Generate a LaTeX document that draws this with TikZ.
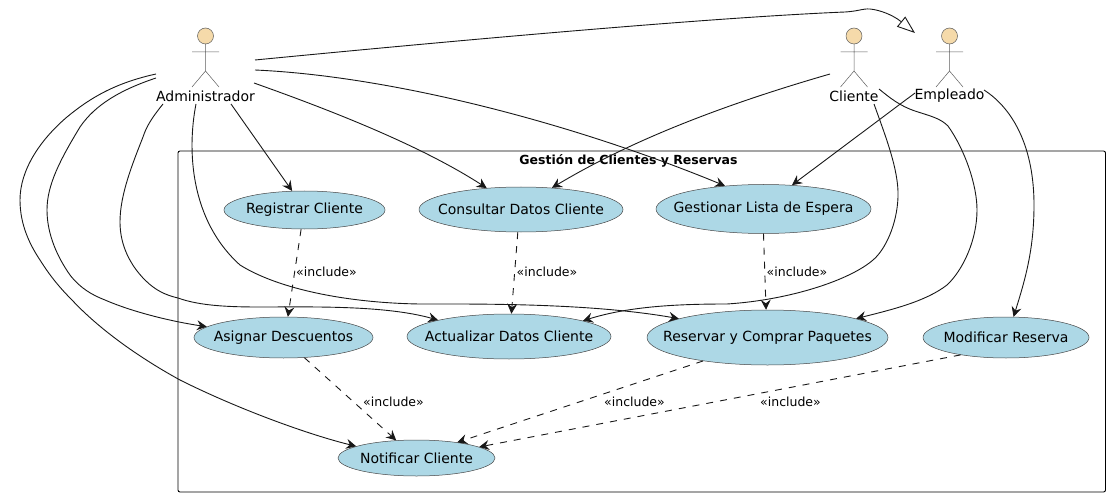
\documentclass[tikz,border=0pt]{standalone}
\usepackage{fontspec}
\setmainfont{DejaVu Sans}
\usetikzlibrary{shapes.geometric}
\usetikzlibrary{arrows.meta}

\definecolor{linecol}{HTML}{181818}
\definecolor{actorfill}{HTML}{F5DAAA}
\definecolor{casefill}{HTML}{ADD8E6}

\newcommand{\casetext}[1]{\makebox[0pt]{#1}}

\tikzset{
  usecase/.style={draw=linecol!80, line width=0.5pt, fill=casefill, ellipse, inner sep=0pt,
    font=\fontsize{14}{16}\selectfont},
  actorname/.style={inner sep=0pt, font=\fontsize{14}{16}\selectfont},
  incl/.style={inner sep=0pt, font=\fontsize{12.5}{15}\selectfont},
  assoc/.style={draw=linecol, line width=0.9pt, -{Stealth[length=10pt,width=10pt,inset=3.5pt]}},
  dep/.style={assoc, dash pattern=on 7pt off 7pt},
  stickman/.pic={
    \draw[draw=linecol!70, line width=0.5pt, fill=actorfill] (0,36) circle (8);
    \draw[draw=linecol!70, line width=0.5pt] (0,44) -- (0,71) (-13.5,52) -- (13.5,52)
      (-13.5,87) -- (0,71) -- (13.5,87);
  }
}

\begin{document}
\begin{tikzpicture}[x=1pt, y=-1pt]
  \useasboundingbox (0,0) rectangle (1110,497);

  \node[draw, line width=0.9pt, rounded corners=2pt, minimum width=927.5pt, minimum height=341pt,
    inner sep=0pt] (Paquete) at (641.75,321.5) {};
  \node[inner sep=0pt, font=\fontsize{12.5}{15}\selectfont\bfseries] (Titulo) at (628.5,161)
  {Gestión de Clientes y Reservas};

  \pic at (205.5,0) {stickman};
  \pic at (854,0) {stickman};
  \pic at (949.5,0) {stickman};
  \node[actorname] (Administrador) at (205.5,96) {Administrador};
  \node[actorname] (Cliente) at (854,96) {Cliente};
  \node[actorname] (Empleado) at (949.5,96) {Empleado};

  \node[usecase, minimum width=161pt, minimum height=38pt] (Registrar) at (304.5,210) {\casetext{Registrar Cliente}};
  \node[usecase, minimum width=204pt, minimum height=45pt] (Consultar) at (521,209.5) {\casetext{Consultar Datos Cliente}};
  \node[usecase, minimum width=215pt, minimum height=49pt] (Gestionar) at (763.5,209) {\casetext{Gestionar Lista de Espera}};
  \node[usecase, minimum width=179pt, minimum height=41pt] (Asignar) at (283.5,337.5) {\casetext{Asignar Descuentos}};
  \node[usecase, minimum width=204pt, minimum height=45pt] (Actualizar) at (509,336.5) {\casetext{Actualizar Datos Cliente}};
  \node[usecase, minimum width=241pt, minimum height=55pt] (Reservar) at (767.5,337.5) {\casetext{Reservar y Comprar Paquetes}};
  \node[usecase, minimum width=166pt, minimum height=41pt] (Modificar) at (1006,337.5) {\casetext{Modificar Reserva}};
  \node[usecase, minimum width=157pt, minimum height=36pt] (Notificar) at (416.5,458) {\casetext{Notificar Cliente}};

  % free ends of the connectors
  \coordinate (admA) at (255,60);
  \coordinate (admB) at (255,70);
  \coordinate (admC) at (254,83);
  \coordinate (admD) at (231,104);
  \coordinate (admE) at (196,104);
  \coordinate (admF) at (163,104);
  \coordinate (admG) at (156,78);
  \coordinate (admH) at (156,74);
  \coordinate (cliA) at (830,74);
  \coordinate (cliB) at (874,104);
  \coordinate (cliC) at (879,89);
  \coordinate (empA) at (915,93);
  \coordinate (empB) at (984,90);
  \coordinate (empTop) at (915,33);

  \draw[draw=linecol, line width=0.9pt, -{Triangle[open,length=18pt,width=13pt]}] (admA)
  .. controls (420,44) and (700,18) .. (845,12)
  .. controls (860,11) and (862,8.5) .. (870,9)
  .. controls (880,10) and (893,15) .. (empTop);

  \draw[assoc] (admB) .. controls (390,76) and (570,122) .. (Gestionar.149);
  \draw[assoc] (admC) .. controls (330,110) and (420,145) .. (Consultar.148);
  \draw[assoc] (admD) -- (Registrar.123);
  \draw[assoc] (admE) .. controls (187,150) and (190,220) .. (240,265)
  .. controls (280,290) and (350,303) .. (420,304)
  .. controls (480,304) and (590,303) .. (Reservar.168);
  \draw[assoc] (admF) .. controls (150,120) and (146,128) .. (143,137)
  .. controls (132,165) and (120,195) .. (120,222)
  .. controls (120,245) and (130,265) .. (145,280)
  .. controls (155,290) and (165,295) .. (178,298)
  .. controls (200,306) and (230,307) .. (260,307)
  .. controls (310,307) and (385,305) .. (Actualizar.167);
  \draw[assoc] (admG) .. controls (120,90) and (95,105) .. (80,127)
  .. controls (60,160) and (47,185) .. (47,210)
  .. controls (47,235) and (58,258) .. (70,275)
  .. controls (80,288) and (92,295) .. (105,300)
  .. controls (135,313) and (175,322) .. (Asignar.172);
  \draw[assoc] (admH) .. controls (115,83) and (90,98) .. (67,117)
  .. controls (40,140) and (20,170) .. (20,200)
  .. controls (20,225) and (30,245) .. (40,260)
  .. controls (50,276) and (60,288) .. (72,300)
  .. controls (100,330) and (140,358) .. (180,380)
  .. controls (240,410) and (310,435) .. (Notificar.169);

  \draw[assoc] (cliA) .. controls (740,100) and (640,135) .. (Consultar.35);
  \draw[assoc] (cliB) .. controls (885,135) and (899,170) .. (898,197)
  .. controls (897,225) and (885,250) .. (873,260)
  .. controls (850,280) and (790,300) .. (727,304)
  .. controls (680,304) and (630,306) .. (Actualizar.12);
  \draw[assoc] (cliC) .. controls (890,98) and (900,106) .. (915,111)
  .. controls (930,116) and (940,118) .. (948,126)
  .. controls (965,150) and (977,185) .. (977,210)
  .. controls (977,240) and (963,270) .. (947,285)
  .. controls (925,302) and (890,310) .. (Reservar.12);

  \draw[assoc] (empA) -- (Gestionar.40);
  \draw[assoc] (empB) .. controls (1015,110) and (1034,150) .. (1034,205)
  .. controls (1034,250) and (1025,280) .. (Modificar.70);

  \draw[dep] (Registrar.260) -- (Asignar.78);
  \draw[dep] (Consultar.262) -- (Actualizar.84);
  \draw[dep] (Gestionar.270) -- (Reservar.93);
  \draw[dep] (Asignar.316) -- (Notificar.139);
  \draw[dep] (Reservar.200) -- (Notificar.21);
  \draw[dep] (Modificar.201) -- (Notificar.10);

  \node[incl] (inclA) at (326.5,272) {«include»};
  \node[incl] (inclB) at (547,272) {«include»};
  \node[incl] (inclC) at (797,272) {«include»};
  \node[incl] (inclD) at (393.5,402) {«include»};
  \node[incl] (inclE) at (634.5,402) {«include»};
  \node[incl] (inclF) at (790.5,402) {«include»};
\end{tikzpicture}
\end{document}
